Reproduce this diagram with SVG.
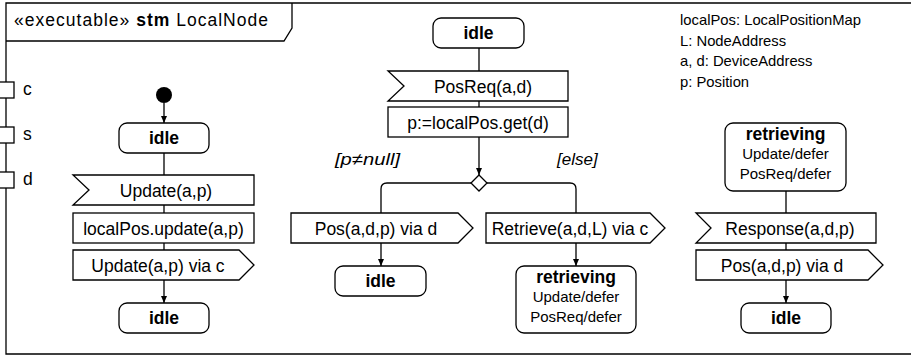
<svg xmlns="http://www.w3.org/2000/svg" width="911" height="357" viewBox="0 0 911 357">
<style>
text{font-family:"Liberation Sans",Arial,sans-serif;fill:#000}
.t{font-size:17.5px}
.c{font-size:17.5px;text-anchor:middle}
.b{font-size:17.5px;text-anchor:middle;font-weight:bold}
.s{font-size:15px;text-anchor:middle}
.d{font-size:14.8px}
.g{font-size:17px;font-style:italic}
.sh{fill:#fff;stroke:#000;stroke-width:1.3}
.ln{fill:none;stroke:#000;stroke-width:1.3}
</style>
<defs>
<marker id="ah" markerWidth="8" markerHeight="8" refX="7" refY="4" orient="auto" markerUnits="userSpaceOnUse">
<path d="M0,1 L7,4 L0,7 Z" fill="#000"/>
</marker>
</defs>
<rect width="911" height="357" fill="#fff"/>
<g id="frame">
<path class="ln" d="M915,3 L6,3 L6,354 L915,354"/>
<path class="ln" d="M6,41 L284,41 L292,28 L292,3"/>
<text class="t" x="14" y="26" textLength="254" lengthAdjust="spacing">«executable» <tspan font-weight="bold">stm</tspan> LocalNode</text>
</g>
<g id="ports">
<rect class="sh" x="-2" y="82" width="16" height="16"/>
<rect class="sh" x="-2" y="127" width="16" height="16"/>
<rect class="sh" x="-2" y="172" width="16" height="16"/>
<text class="t" x="23" y="95">c</text>
<text class="t" x="23" y="140">s</text>
<text class="t" x="23" y="185">d</text>
</g>
<g id="declarations">
<text class="d" x="680" y="25">localPos: LocalPositionMap</text>
<text class="d" x="680" y="46">L: NodeAddress</text>
<text class="d" x="680" y="66">a, d: DeviceAddress</text>
<text class="d" x="680" y="87">p: Position</text>
</g>
<g id="connectors">
<line class="ln" x1="164" y1="103" x2="164" y2="123" marker-end="url(#ah)"/>
<line class="ln" x1="164" y1="153" x2="164" y2="175"/>
<line class="ln" x1="164" y1="205" x2="164" y2="213"/>
<line class="ln" x1="164" y1="243" x2="164" y2="250"/>
<line class="ln" x1="164" y1="280" x2="164" y2="303" marker-end="url(#ah)"/>
<line class="ln" x1="479" y1="48" x2="479" y2="71"/>
<line class="ln" x1="479" y1="101" x2="479" y2="107"/>
<line class="ln" x1="479" y1="137" x2="479" y2="175" marker-end="url(#ah)"/>
<path class="ln" d="M471,183 L387,183 Q381,183 381,189 L381,213"/>
<path class="ln" d="M487,183 L570,183 Q576,183 576,189 L576,213"/>
<line class="ln" x1="381" y1="243" x2="381" y2="266" marker-end="url(#ah)"/>
<line class="ln" x1="576" y1="243" x2="576" y2="266" marker-end="url(#ah)"/>
<line class="ln" x1="786" y1="191" x2="786" y2="213"/>
<line class="ln" x1="786" y1="243" x2="786" y2="250"/>
<line class="ln" x1="786" y1="280" x2="786" y2="303" marker-end="url(#ah)"/>
<text class="g" x="335" y="165" textLength="65" lengthAdjust="spacingAndGlyphs">[p≠null]</text>
<text class="g" x="557" y="165">[else]</text>
</g>
<g id="initial">
<circle cx="164" cy="95" r="8" fill="#000"/>
</g>
<g id="idle1">
<rect class="sh" x="119" y="123" width="90" height="30" rx="8"/>
<text class="b" x="164" y="144">idle</text>
</g>
<g id="recvUpdate">
<path class="sh" d="M73,175 L254,175 L254,205 L73,205 L89,190 Z"/>
<text class="c" x="166" y="196.5">Update(a,p)</text>
</g>
<g id="actUpdate">
<rect class="sh" x="73" y="213" width="181" height="30"/>
<text class="c" x="163.5" y="234.5">localPos.update(a,p)</text>
</g>
<g id="sendUpdate">
<path class="sh" d="M73,250 L239,250 L254,265 L239,280 L73,280 Z"/>
<text class="c" x="158" y="271.5">Update(a,p) via c</text>
</g>
<g id="idle2">
<rect class="sh" x="119" y="303" width="90" height="30" rx="8"/>
<text class="b" x="164" y="324">idle</text>
</g>
<g id="idle3">
<rect class="sh" x="433" y="18" width="91" height="30" rx="8"/>
<text class="b" x="478.5" y="39">idle</text>
</g>
<g id="recvPosReq">
<path class="sh" d="M388,71 L568,71 L568,101 L388,101 L404,86 Z"/>
<text class="c" x="483" y="92.5">PosReq(a,d)</text>
</g>
<g id="actGet">
<rect class="sh" x="388" y="107" width="180" height="30"/>
<text class="c" x="478" y="128.5">p:=localPos.get(d)</text>
</g>
<g id="decision">
<path class="sh" d="M479,175 L487,183 L479,191 L471,183 Z"/>
</g>
<g id="sendPos1">
<path class="sh" d="M291,213 L458,213 L473,228 L458,243 L291,243 Z"/>
<text class="c" x="376" y="234.5">Pos(a,d,p) via d</text>
</g>
<g id="sendRetrieve">
<path class="sh" d="M486,213 L650,213 L665,228 L650,243 L486,243 Z"/>
<text class="c" x="570" y="234.5">Retrieve(a,d,L) via c</text>
</g>
<g id="idle4">
<rect class="sh" x="335" y="266" width="91" height="30" rx="8"/>
<text class="b" x="380.5" y="287">idle</text>
</g>
<g id="retrieving1">
<rect class="sh" x="516" y="266" width="120" height="67" rx="8"/>
<text class="b" x="576" y="283">retrieving</text>
<text class="s" x="576" y="302">Update/defer</text>
<text class="s" x="576" y="322">PosReq/defer</text>
</g>
<g id="retrieving2">
<rect class="sh" x="725" y="123" width="121" height="68" rx="8"/>
<text class="b" x="785.5" y="140">retrieving</text>
<text class="s" x="785.5" y="159">Update/defer</text>
<text class="s" x="785.5" y="179">PosReq/defer</text>
</g>
<g id="recvResponse">
<path class="sh" d="M696,213 L876,213 L876,243 L696,243 L711,228 Z"/>
<text class="c" x="790" y="234.5">Response(a,d,p)</text>
</g>
<g id="sendPos2">
<path class="sh" d="M696,250 L868,250 L883,265 L868,280 L696,280 Z"/>
<text class="c" x="782" y="271.5">Pos(a,d,p) via d</text>
</g>
<g id="idle5">
<rect class="sh" x="741" y="303" width="90" height="30" rx="8"/>
<text class="b" x="786" y="324">idle</text>
</g>
</svg>
